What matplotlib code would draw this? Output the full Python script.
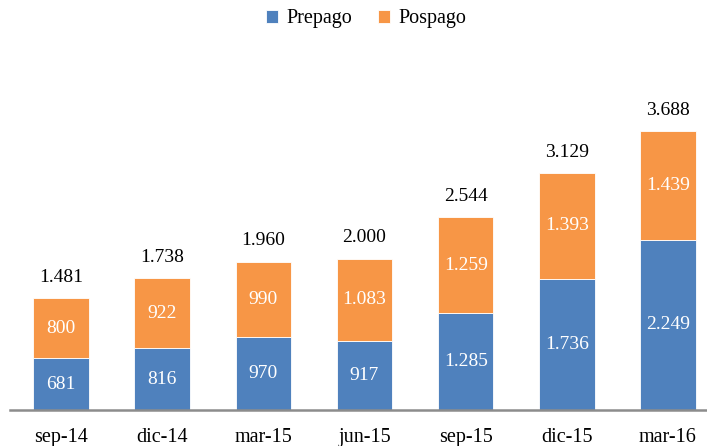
import matplotlib.pyplot as plt
import numpy as np

periodos = ['sep-14', 'dic-14', 'mar-15', 'jun-15', 'sep-15', 'dic-15', 'mar-16']
prepago = [681, 816, 970, 917, 1285, 1736, 2249]
pospago = [800, 922, 990, 1083, 1259, 1393, 1439]
totales = [1481, 1738, 1960, 2000, 2544, 3129, 3688]

azul = '#4F81BD'
naranja = '#F79646'


def fmt(v):
    return f'{v:,}'.replace(',', '.')


plt.rcParams['font.family'] = ['Liberation Serif', 'DejaVu Serif']

fig = plt.figure(figsize=(7.07, 4.46), dpi=100)
ax = fig.add_axes([10 / 707, 36 / 446, 697 / 707, 350 / 446])

x = np.arange(len(periodos))
ancho = 0.55
b1 = ax.bar(x, prepago, ancho, color=azul, edgecolor='white', linewidth=0.6, label='Prepago')
b2 = ax.bar(x, pospago, ancho, bottom=prepago, color=naranja, edgecolor='white', linewidth=0.6, label='Pospago')

for i in range(len(periodos)):
    ax.text(x[i], prepago[i] / 2, fmt(prepago[i]), ha='center', va='center',
            color='white', fontsize=14)
    ax.text(x[i], prepago[i] + pospago[i] / 2, fmt(pospago[i]), ha='center', va='center',
            color='white', fontsize=14)
    ax.text(x[i], totales[i] + 160, fmt(totales[i]), ha='center', va='bottom',
            color='black', fontsize=14)

ax.set_xlim(-0.505, 6.386)
ax.set_ylim(0, 4623)
ax.set_yticks([])
ax.set_xticks(x)
ax.set_xticklabels(periodos, fontsize=14.5)
ax.tick_params(axis='x', length=0, pad=13)
for s in ['top', 'right', 'left']:
    ax.spines[s].set_visible(False)
ax.spines['bottom'].set_color('#8C8C8C')
ax.spines['bottom'].set_linewidth(1.8)

fig.legend(handles=[b1, b2], loc='center', bbox_to_anchor=(366 / 707, 1 - 19 / 446), ncol=2,
           frameon=False, fontsize=14.5, handlelength=0.6, handleheight=0.6,
           handletextpad=0.4, columnspacing=1.3)

fig.savefig('out.png', dpi=100)
